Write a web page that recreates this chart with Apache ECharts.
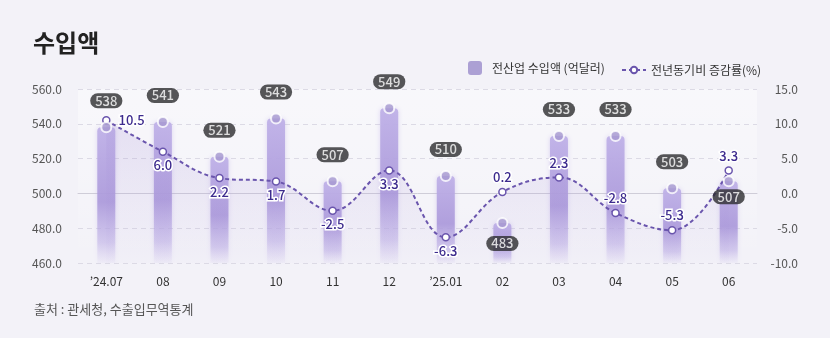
<!DOCTYPE html>
<html>
<head>
<meta charset="utf-8">
<script src="https://cdn.jsdelivr.net/npm/echarts@6/dist/echarts.min.js"></script>
<style>
html,body{margin:0;padding:0;background:#f3f2f8;}
#c{width:830px;height:338px;}
</style>
</head>
<body>
<div id="c"></div>
<script>
const categories = ['’24.07','08','09','10','11','12','’25.01','02','03','04','05','06'];
const importValues = [538, 541, 521, 543, 507, 549, 510, 483, 533, 533, 503, 507];
const yoyRates = [10.5, 6.0, 2.2, 1.7, -2.5, 3.3, -6.3, 0.2, 2.3, -2.8, -5.3, 3.3];
const leftTicks = {min: 460, max: 560, interval: 20};
const rightTicks = {min: -10, max: 15, interval: 5};
const barLabelBelow = [7, 11];
const rateLabelPos = ['right','bottom','bottom','bottom','bottom','bottom','bottom','top','top','top','top','top'];

const FONT = '"Noto Sans CJK KR", "Noto Sans", sans-serif';
const chart = echarts.init(document.getElementById('c'));

const barName = '전산업 수입액 (억달러)';
const lineName = '전년동기비 증감률(%)';

const scatterData = importValues.map((v, i) => {
  const below = barLabelBelow.indexOf(i) >= 0;
  return {
    value: v,
    label: below ? {position: 'bottom', distance: i === 7 ? 7 : 2} : {position: 'top', distance: 13}
  };
});
const lineData = yoyRates.map((v, i) => ({
  value: v,
  label: {position: rateLabelPos[i], distance: rateLabelPos[i] === 'right' ? 8 : (rateLabelPos[i] === 'bottom' ? 3 : 4)}
}));

chart.setOption({
  backgroundColor: '#f3f2f8',
  textStyle: {fontFamily: FONT},
  title: [
    {text: '수입액', left: 28, top: 26, textStyle: {fontSize: 24, fontWeight: 'bold', color: '#222', fontFamily: FONT}},
    {text: '출처 : 관세청, 수출입무역통계', left: 29, top: 298, textStyle: {fontSize: 13, fontWeight: 'normal', color: '#555', fontFamily: FONT}}
  ],
  legend: [
    {
      left: 463, top: 56, itemWidth: 24, itemHeight: 14,
      textStyle: {fontSize: 12, color: '#333', fontFamily: FONT},
      data: [
        {name: barName, icon: 'path://M3,0 L11,0 Q14,0 14,3 L14,11 Q14,14 11,14 L3,14 Q0,14 0,11 L0,3 Q0,0 3,0 Z', itemStyle: {color: '#aca0d4'}}
      ]
    },
    {
      left: 616, top: 59, itemWidth: 24, itemHeight: 8,
      textStyle: {fontSize: 12, color: '#333', fontFamily: FONT},
      data: [{name: lineName}]
    }
  ],
  grid: {
    left: 78, right: 73, top: 89, bottom: 75, show: true, borderWidth: 0,
    backgroundColor: {type: 'linear', x: 0, y: 0, x2: 0, y2: 1, colorStops: [
      {offset: 0, color: 'rgba(255,255,255,0.45)'}, {offset: 1, color: 'rgba(255,255,255,0.0)'}
    ]}
  },
  xAxis: {
    type: 'category', data: categories,
    axisLine: {lineStyle: {color: '#cfcdd8'}},
    axisTick: {show: false},
    axisLabel: {color: '#333', fontSize: 12, margin: 12, fontFamily: FONT}
  },
  yAxis: [
    {
      type: 'value', min: leftTicks.min, max: leftTicks.max, interval: leftTicks.interval,
      axisLabel: {color: '#555', fontSize: 12, margin: 16, formatter: v => v.toFixed(1), fontFamily: FONT},
      splitLine: {lineStyle: {type: [5, 4], color: '#dcdae5'}},
      axisLine: {show: false}, axisTick: {show: false}
    },
    {
      type: 'value', min: rightTicks.min, max: rightTicks.max, interval: rightTicks.interval,
      axisLabel: {color: '#555', fontSize: 12, margin: 41, align: 'right', formatter: v => v.toFixed(1), fontFamily: FONT},
      splitLine: {show: false}, axisLine: {show: false}, axisTick: {show: false}
    }
  ],
  series: [
    {
      name: barName, type: 'bar', yAxisIndex: 0, data: importValues, barWidth: 18,
      itemStyle: {
        borderRadius: [4, 4, 0, 0],
        color: {type: 'linear', x: 0, y: 0, x2: 0, y2: 1, colorStops: [
          {offset: 0, color: 'rgba(192,178,232,0.95)'},
          {offset: 0.55, color: 'rgba(170,152,218,0.88)'},
          {offset: 0.85, color: 'rgba(190,176,230,0.5)'},
          {offset: 1, color: 'rgba(215,205,240,0.12)'}
        ]},
        shadowBlur: 5, shadowColor: 'rgba(175,155,225,0.4)'
      },
      z: 2
    },
    {
      name: lineName, type: 'line', yAxisIndex: 1, data: lineData, smooth: 0.4,
      symbol: 'circle', symbolSize: 7,
      lineStyle: {color: '#6a55ad', width: 2, type: [4, 3]},
      itemStyle: {color: '#fff', borderColor: '#6a55ad', borderWidth: 1.5},
      areaStyle: {origin: 'start', color: {type: 'linear', x: 0, y: 0, x2: 0, y2: 1, colorStops: [
        {offset: 0, color: 'rgba(165,145,215,0.32)'}, {offset: 1, color: 'rgba(165,145,215,0.03)'}
      ]}},
      label: {show: true, color: '#3d2b8e', fontSize: 13, fontWeight: 500, textBorderColor: '#fff', textBorderWidth: 3, formatter: p => Number(p.value).toFixed(1), fontFamily: FONT},
      z: 4
    },
    {
      name: 'marker', type: 'scatter', yAxisIndex: 0, data: scatterData,
      symbol: 'circle', symbolSize: 10,
      itemStyle: {color: '#a597d0', borderColor: '#fff', borderWidth: 2},
      label: {show: true, color: '#fff', fontSize: 13, fontWeight: 500, backgroundColor: '#2c2c2e', borderRadius: 8, padding: [0, 5], lineHeight: 15, formatter: p => String(p.value), fontFamily: FONT},
      z: 5, silent: true
    }
  ]
});
</script>
</body>
</html>
